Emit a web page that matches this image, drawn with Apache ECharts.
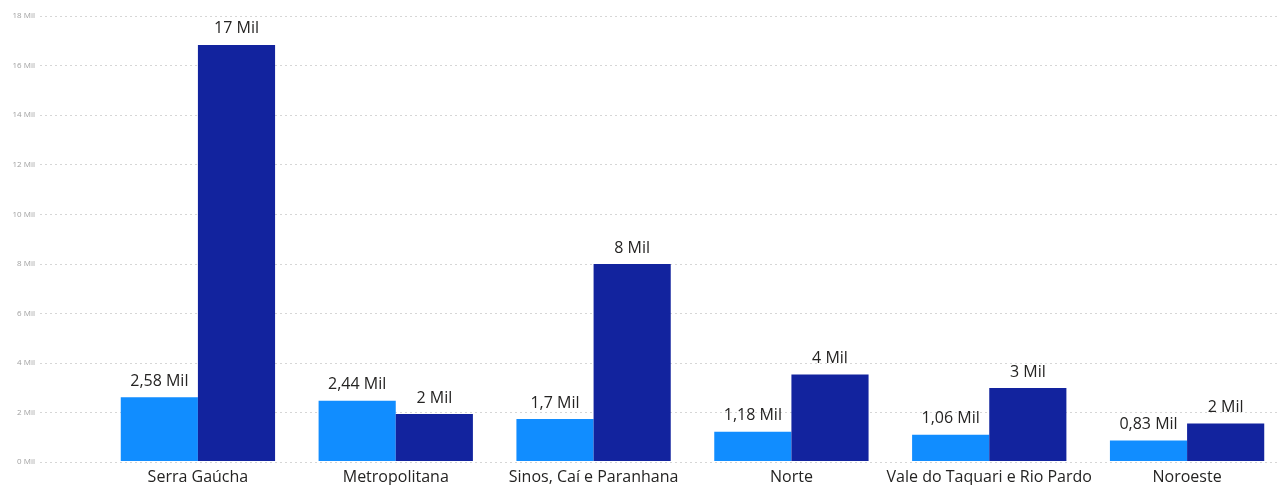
<!DOCTYPE html>
<html>
<head>
<meta charset="utf-8">
<script src="https://cdn.jsdelivr.net/npm/echarts@6/dist/echarts.min.js"></script>
<style>
  html, body { margin: 0; padding: 0; background: #fff; overflow: hidden; }
  /* o gráfico original é cortado à direita, por isso o container é mais largo que a janela */
  #chart { width: 1292px; height: 485px; }
</style>
</head>
<body>
<div id="chart"></div>
<script>
// regiões e valores (em Mil)
const categories = ['Serra Gaúcha', 'Metropolitana', 'Sinos, Caí e Paranhana', 'Norte', 'Vale do Taquari e Rio Pardo', 'Noroeste']
const lightValues = [2.58, 2.44, 1.7, 1.18, 1.06, 0.83]
const darkValues = [16.83, 1.9, 7.97, 3.5, 2.95, 1.52]
const yMin = 0
const yMax = 18
const yStep = 2

const fontFamily = '"Open Sans", "Noto Sans", sans-serif'
const labelColor = '#252423'

function fmtDecimal(v) {
  return String(Number(v.toFixed(2))).replace('.', ',') + ' Mil'
}
function fmtRound(v) {
  return Math.round(v) + ' Mil'
}

const chart = echarts.init(document.getElementById('chart'))

const option = {
  animation: false,
  grid: [
    // grade de fundo (linhas pontilhadas + eixo y)
    { left: 40, right: 0, top: 16, bottom: 23 },
    // barras
    { left: 99, width: 1187, top: 16, bottom: 23 },
  ],
  xAxis: [
    { gridIndex: 0, type: 'value', min: 0, max: 1, show: false },
    {
      gridIndex: 1,
      type: 'category',
      data: categories,
      axisLine: { show: false },
      axisTick: { show: false },
      axisLabel: {
        color: labelColor,
        fontSize: 16,
        fontFamily,
        margin: 8,
        interval: 0,
      },
    },
  ],
  yAxis: [
    {
      gridIndex: 0,
      type: 'value',
      min: yMin,
      max: yMax,
      interval: yStep,
      axisLine: { show: false },
      axisTick: { show: false },
      axisLabel: {
        color: '#a0a0a0',
        fontSize: 8,
        fontFamily,
        margin: 5,
        formatter: v => v + ' Mil',
      },
      splitLine: {
        lineStyle: { color: '#d6d6d6', type: [2, 3], width: 1 },
      },
    },
    {
      gridIndex: 1,
      type: 'value',
      min: yMin,
      max: yMax,
      interval: yStep,
      show: false,
      splitLine: { show: false },
    },
  ],
  series: [
    {
      type: 'bar',
      xAxisIndex: 1,
      yAxisIndex: 1,
      data: lightValues,
      barGap: '0%',
      barCategoryGap: '22%',
      itemStyle: { color: '#118DFF' },
      label: {
        show: true,
        position: 'top',
        distance: 8,
        color: labelColor,
        fontSize: 16,
        fontFamily,
        formatter: p => fmtDecimal(p.value),
      },
    },
    {
      type: 'bar',
      xAxisIndex: 1,
      yAxisIndex: 1,
      data: darkValues,
      barGap: '0%',
      barCategoryGap: '22%',
      itemStyle: { color: '#12239E' },
      label: {
        show: true,
        position: 'top',
        distance: 8,
        color: labelColor,
        fontSize: 16,
        fontFamily,
        formatter: p => fmtRound(p.value),
      },
    },
  ],
}

chart.setOption(option)
</script>
</body>
</html>
